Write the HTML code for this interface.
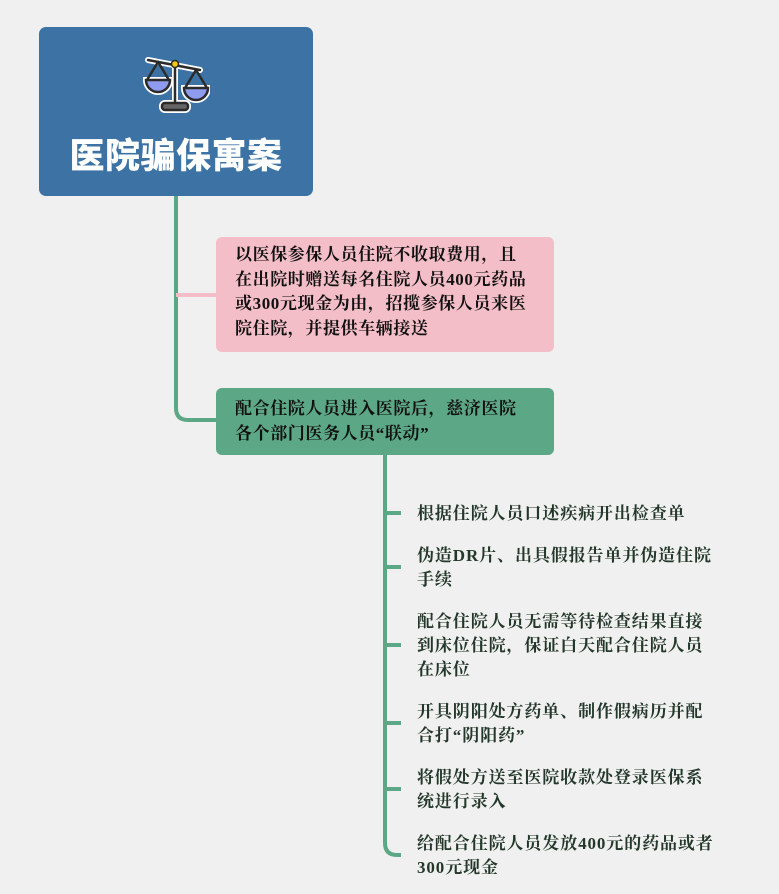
<!DOCTYPE html>
<html><head><meta charset="utf-8"><style>
body{margin:0;width:779px;height:894px;background:#f0f0f0;position:relative;overflow:hidden;font-family:"Liberation Serif","Noto Serif CJK SC",serif;}
.b{position:absolute;font-weight:bold;font-size:17px;line-height:24.5px;letter-spacing:0.6px;white-space:nowrap;}
.leaf{position:absolute;left:417px;font-weight:bold;font-size:17px;line-height:24px;letter-spacing:0.9px;color:#23372a;white-space:nowrap;}
</style></head><body>
<svg width="779" height="894" style="position:absolute;left:0;top:0">
<path d="M176 196 V408 Q176 420 188 420 H218" stroke="#5ca785" stroke-width="4" fill="none"/>
<path d="M176 295 H218" stroke="#f4bec8" stroke-width="4" fill="none"/>
<path d="M385 455 V843 Q385 855 397 855 H401" stroke="#5ca785" stroke-width="4" fill="none"/>
<g stroke="#5ca785" stroke-width="4" fill="none">
<path d="M387 513 H401"/><path d="M387 567 H401"/><path d="M387 645 H401"/><path d="M387 723 H401"/><path d="M387 789 H401"/>
</g>
</svg>
<div style="position:absolute;left:39px;top:27px;width:274px;height:169px;background:#3c73a4;border-radius:7px;"></div>
<svg style="position:absolute;left:140px;top:54px" width="70" height="62" viewBox="0 0 70 62">
<g stroke="#fff" stroke-width="6" fill="none" stroke-linecap="round">
<line x1="8" y1="6" x2="60" y2="16"/><line x1="35" y1="10" x2="35" y2="50"/>
<path d="M6 26 A12 12 0 0 0 30 26 Z"/><path d="M44 34 A12 12 0 0 0 68 34 Z"/>
<rect x="22" y="49" width="26" height="7" rx="3"/></g>
<g stroke="#2b2b2b" stroke-width="2.5" fill="none" stroke-linecap="round">
<line x1="8" y1="6" x2="60" y2="16"/><line x1="35" y1="10" x2="35" y2="50"/>
<path d="M18 8 L7 26 M18 8 L29 26 M56 16 L45 34 M56 16 L67 34"/></g>
<path d="M6 26 A12 12 0 0 0 30 26 Z" fill="#8f9bef" stroke="#2b2b2b" stroke-width="2.5"/>
<path d="M44 34 A12 12 0 0 0 68 34 Z" fill="#8f9bef" stroke="#2b2b2b" stroke-width="2.5"/>
<rect x="22" y="49" width="26" height="7" rx="3" fill="#666" stroke="#2b2b2b" stroke-width="2.5"/>
<circle cx="35" cy="10" r="3.5" fill="#f5c518" stroke="#2b2b2b" stroke-width="1.5"/>
</svg>
<div class="b" style="left:39px;top:135px;width:274px;text-align:center;font-size:35px;line-height:44px;letter-spacing:0.5px;color:#fff;font-family:'Liberation Sans','Noto Sans CJK SC',sans-serif;font-weight:900;">医院骗保寓案</div>
<div style="position:absolute;left:216px;top:237px;width:338px;height:115px;background:#f4bec8;border-radius:6px;"></div>
<div class="b" style="left:235px;top:243px;color:#111;">以医保参保人员住院不收取费用，且<br>在出院时赠送每名住院人员400元药品<br>或300元现金为由，招揽参保人员来医<br>院住院，并提供车辆接送</div>
<div style="position:absolute;left:216px;top:388px;width:338px;height:67px;background:#5ca785;border-radius:6px;"></div>
<div class="b" style="left:235px;top:397px;color:#111;">配合住院人员进入医院后，慈济医院<br>各个部门医务人员“联动”</div>
<div class="leaf" style="top:502px">根据住院人员口述疾病开出检查单</div>
<div class="leaf" style="top:544px">伪造DR片、出具假报告单并伪造住院<br>手续</div>
<div class="leaf" style="top:610px">配合住院人员无需等待检查结果直接<br>到床位住院，保证白天配合住院人员<br>在床位</div>
<div class="leaf" style="top:700px">开具阴阳处方药单、制作假病历并配<br>合打“阴阳药”</div>
<div class="leaf" style="top:766px">将假处方送至医院收款处登录医保系<br>统进行录入</div>
<div class="leaf" style="top:832px">给配合住院人员发放400元的药品或者<br>300元现金</div>
</body></html>
